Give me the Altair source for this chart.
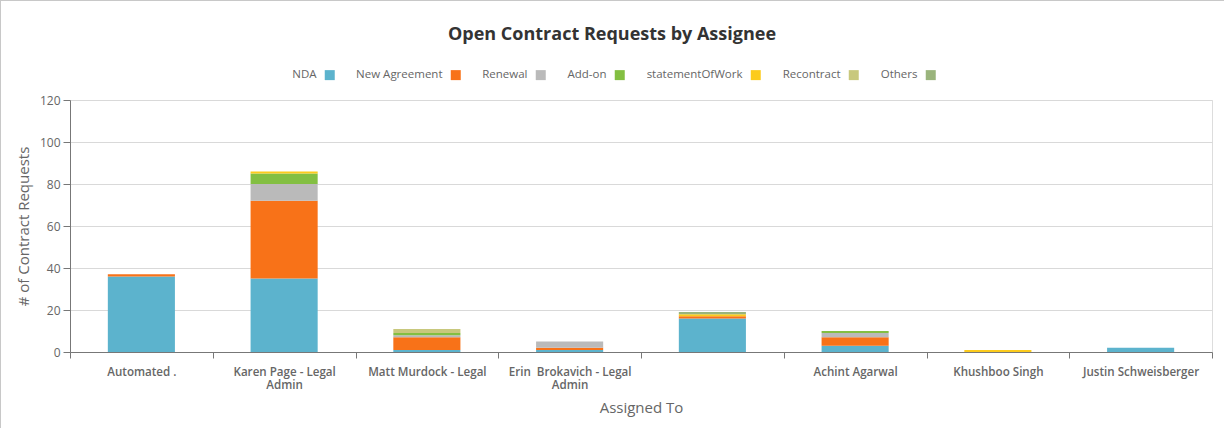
import altair as alt
import pandas as pd

assignees = ["Automated .", "Karen Page - Legal Admin", "Matt Murdock - Legal",
             "Erin  Brokavich - Legal Admin", " ", "Achint Agarwal",
             "Khushboo Singh", "Justin Schweisberger"]
label_lines = [["Automated ."], ["Karen Page - Legal", "Admin"], ["Matt Murdock - Legal"],
               ["Erin\u00a0 Brokavich - Legal", "Admin"], [""], ["Achint Agarwal"],
               ["Khushboo Singh"], ["Justin Schweisberger"]]
series = ["NDA", "New Agreement", "Renewal", "Add-on", "statementOfWork", "Recontract", "Others"]
colors = ["#5cb3cd", "#f87218", "#bababa", "#83bf42", "#fccb1c", "#c8c87d", "#9ab47c"]

nda            = [36, 35, 1, 1, 16, 3, 0, 2]
new_agreement  = [1, 37, 6, 1, 1, 4, 0, 0]
renewal        = [0, 8, 1, 3, 0, 2, 0, 0]
add_on         = [0, 5, 1, 0, 0, 1, 0, 0]
sow            = [0, 1, 0, 0, 1, 0, 1, 0]
recontract     = [0, 0, 2, 0, 0, 0, 0, 0]
others         = [0, 0, 0, 0, 1, 0, 0, 0]
values = [nda, new_agreement, renewal, add_on, sow, recontract, others]

rows = []
for si, s in enumerate(series):
    for ai, a in enumerate(assignees):
        if values[si][ai] > 0:
            rows.append({"Assignee": a, "Type": s, "Count": values[si][ai], "order": si})
df = pd.DataFrame(rows)

expr_parts = []
for a, lines in zip(assignees, label_lines):
    arr = "[" + ",".join("'" + l + "'" for l in lines) + "]"
    expr_parts.append(f"datum.label == '{a}' ? {arr} : ")
label_expr = "".join(expr_parts) + "datum.label"

FONT = "Open Sans"

bars = alt.Chart(df).mark_bar(width={"band": 0.47}).encode(
    x=alt.X("Assignee:N", sort=assignees,
            scale=alt.Scale(paddingInner=0, paddingOuter=0),
            axis=alt.Axis(title="Assigned To", labelAngle=0, labelExpr=label_expr,
                          tickBand="extent", domainColor="#777", tickColor="#777",
                          tickSize=6, labelColor="#666", labelFont=FONT, labelFontSize=11.6,
                          labelFontWeight=600, labelPadding=8, labelLineHeight=13,
                          titleFont=FONT, titleFontSize=15, titleFontWeight="normal",
                          titleColor="#666", titlePadding=10, labelLimit=300)),
    y=alt.Y("Count:Q", stack="zero",
            scale=alt.Scale(domain=[0, 120]),
            axis=alt.Axis(title="# of Contract Requests", values=[0, 20, 40, 60, 80, 100, 120],
                          domainColor="#777", tickColor="#777", tickSize=7,
                          gridColor="#d9d9d9", labelColor="#666", labelFont=FONT,
                          labelFontSize=12, labelPadding=3, titleFont=FONT, titleFontSize=15,
                          titleFontWeight="normal", titleColor="#666", titlePadding=8)),
    color=alt.Color("Type:N", scale=alt.Scale(domain=series, range=colors),
                    legend=alt.Legend(title=None, orient="none", direction="horizontal",
                                      legendX=254, legendY=-31, symbolType="square",
                                      symbolSize=100, symbolStrokeWidth=0, symbolOpacity=1,
                                      labelAlign="right", labelOffset={"expr": "-19"},
                                      columnPadding=21, labelColor="#666", labelFont=FONT,
                                      labelFontSize=11.5)),
    order=alt.Order("order:Q"),
)

frame_data = pd.DataFrame({"k": [0]})
top_border = alt.Chart(frame_data).mark_rule(color="#c8c8c8", strokeWidth=1).encode(
    x=alt.value(-70), x2=alt.value(1154), y=alt.value(-99.5))
left_border = alt.Chart(frame_data).mark_rule(color="#c8c8c8", strokeWidth=1).encode(
    x=alt.value(-69.5), y=alt.value(-100), y2=alt.value(328))

chart = alt.layer(bars, top_border, left_border).properties(
    width=1142, height=252,
    title=alt.Title("Open Contract Requests by Assignee", font=FONT, fontSize=18,
                    fontWeight="bold", color="#333", anchor="middle", offset=0,
                    dx=-29, dy=44),
    autosize=alt.AutoSizeParams(type="none"),
    padding={"left": 70, "top": 100, "right": 12, "bottom": 76},
).configure_view(stroke=None).configure(background="white")

chart.save("out.html", embed_options={"renderer": "svg", "actions": False})
